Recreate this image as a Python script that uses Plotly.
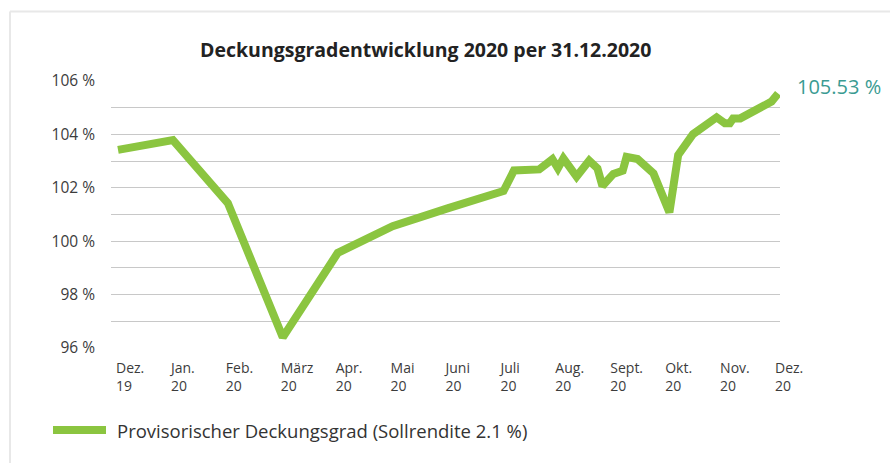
import plotly.graph_objects as go

# ---------------- data ----------------
month_labels = ["Dez.<br>19", "Jan.<br>20", "Feb.<br>20", "März<br>20", "Apr.<br>20",
                "Mai<br>20", "Juni<br>20", "Juli<br>20", "Aug.<br>20", "Sept.<br>20",
                "Okt.<br>20", "Nov.<br>20", "Dez.<br>20"]
month_pos = list(range(13))

# x = position in months since end Dec 2019 (0 = Dez. 19, 12 = Dez. 20)
x_pos = [0, 1, 2, 3, 4, 5, 6,
         7.02, 7.21, 7.67, 7.91, 8.01, 8.11, 8.35, 8.58, 8.73, 8.82,
         9.02, 9.19, 9.26, 9.46, 9.75, 10.04, 10.20, 10.47, 10.90,
         11.05, 11.14, 11.20, 11.33, 11.90, 12.02]
deckungsgrad = [103.42, 103.79, 101.43, 96.40, 99.56, 100.56, 101.23,
                101.88, 102.65, 102.69, 103.07, 102.73, 103.10, 102.42, 103.02, 102.73, 102.07,
                102.52, 102.64, 103.16, 103.08, 102.54, 101.08, 103.23, 104.01, 104.64,
                104.42, 104.42, 104.60, 104.60, 105.23, 105.53]

y_ticks = [96, 98, 100, 102, 104, 106]
y_tick_text = [f"{v} %" for v in y_ticks]

series_name = "Provisorischer Deckungsgrad (Sollrendite 2.1 %)"
chart_title = "Deckungsgradentwicklung 2020 per 31.12.2020"

# ---------------- layout helpers ----------------
W, H = 890, 463
L, R, T, B = 111, 110, 81, 115
FONT = "Open Sans"
GREEN = "#8bc540"
TEAL = "#3a9b92"


def px_x(p):
    return (p - L) / (W - L - R)


def px_y(p):
    return 1 - (p - T) / (H - T - B)


fig = go.Figure()
fig.add_trace(go.Scatter(
    x=x_pos, y=deckungsgrad, mode="lines", name=series_name,
    line=dict(color=GREEN, width=8), showlegend=False, hoverinfo="x+y",
))

fig.update_layout(
    width=W, height=H,
    margin=dict(l=L, r=R, t=T, b=B),
    paper_bgcolor="white", plot_bgcolor="white",
    font=dict(family=FONT, color="#3c3c3c", size=14),
    xaxis=dict(
        range=[-0.1275, 12.054],
        tickmode="array", tickvals=month_pos, ticktext=month_labels,
        ticklabelposition="outside right",
        showgrid=False, zeroline=False, showline=False, ticks="",
        tickfont=dict(size=14, color="#3c3c3c"),
        ticklabelstandoff=10, ticklabelshift=-2,
        fixedrange=True,
    ),
    yaxis=dict(
        range=[96, 106],
        tickmode="array", tickvals=y_ticks, ticktext=y_tick_text,
        showgrid=True, gridcolor="#c8c8c8", gridwidth=1.3,
        minor=dict(dtick=1, showgrid=True, gridcolor="#c8c8c8", gridwidth=1.3),
        zeroline=False, showline=False, ticks="",
        tickfont=dict(size=15.5, color="#3c3c3c"),
        ticklabelstandoff=15,
        fixedrange=True,
    ),
)

# title
fig.add_annotation(
    xref="paper", yref="paper", x=px_x(425), y=px_y(50),
    text=f"<b>{chart_title}</b>", showarrow=False,
    xanchor="center", yanchor="middle",
    font=dict(family=FONT, size=19.5, color="#222222"),
)

# end value label
fig.add_annotation(
    xref="x", yref="y", x=x_pos[-1], y=deckungsgrad[-1],
    text=f"{deckungsgrad[-1]:.2f} %", showarrow=False,
    xanchor="left", yanchor="middle", xshift=17, yshift=7,
    font=dict(family=FONT, size=20, color=TEAL),
)

# legend (sample line + text)
fig.add_shape(type="line", xref="paper", yref="paper",
              x0=px_x(53), x1=px_x(106), y0=px_y(430), y1=px_y(430),
              line=dict(color=GREEN, width=8))
fig.add_annotation(
    xref="paper", yref="paper", x=px_x(115), y=px_y(430),
    text=series_name, showarrow=False, xanchor="left", yanchor="middle",
    font=dict(family=FONT, size=18.5, color="#333333"),
)

# light frame (top and left edges)
fig.add_shape(type="line", xref="paper", yref="paper",
              x0=px_x(10), x1=px_x(W + 5), y0=px_y(11.5), y1=px_y(11.5),
              line=dict(color="#e8e8e8", width=2))
fig.add_shape(type="line", xref="paper", yref="paper",
              x0=px_x(10), x1=px_x(10), y0=px_y(11.5), y1=px_y(H + 5),
              line=dict(color="#e8e8e8", width=2))

fig.write_html("out.html")
